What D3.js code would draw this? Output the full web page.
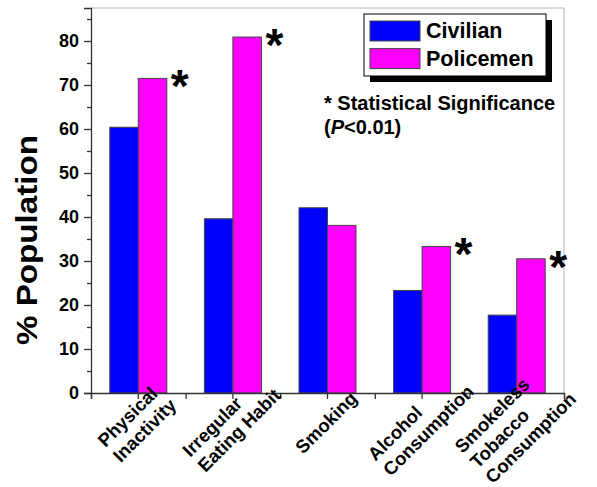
<!DOCTYPE html>
<html>
<head>
<meta charset="utf-8">
<script src="https://cdn.jsdelivr.net/npm/d3@7"></script>
<style>
    body { margin: 0; background: #fff; }
    text { font-family: "Liberation Sans", Arial, sans-serif; font-weight: bold; fill: #000; }
</style>
</head>
<body>
<div id="chart_container"></div>
<script>
var categories = [
    ["Physical", "Inactivity"],
    ["Irregular", "Eating Habit"],
    ["Smoking"],
    ["Alcohol", "Consumption"],
    ["Smokeless", "Tobacco", "Consumption"]
];
var seriesNames = ["Civilian", "Policemen"];
var civilian = [60.4, 39.6, 42.1, 23.3, 17.7];
var policemen = [71.5, 80.9, 38.1, 33.3, 30.5];
var significant = [true, true, false, true, true];
var yTicks = [0, 10, 20, 30, 40, 50, 60, 70, 80];
var yMinorTicks = [5, 15, 25, 35, 45, 55, 65, 75, 85];
var colors = ["#0000ff", "#ff00ff"];

var margin = {top: 8, right: 33, bottom: 94, left: 91},
    width = 597 - margin.left - margin.right,
    height = 487 - margin.top - margin.bottom;

var svg = d3.select("#chart_container").append("svg")
    .attr("width", 597)
    .attr("height", 487);

var g = svg.append("g")
    .attr("transform", "translate(" + margin.left + "," + margin.top + ")");

var keys = categories.map(function (c) { return c.join(" "); });

var x0 = d3.scaleBand()
    .domain(keys)
    .range([0, width]);

var x1 = d3.scaleBand()
    .domain(seriesNames)
    .range([0, x0.bandwidth()])
    .paddingOuter(0.66);

var y = d3.scaleLinear()
    .domain([0, 87.5])
    .range([height, 0]);

var data = keys.map(function (k, i) {
    return {key: k, values: [civilian[i], policemen[i]], sig: significant[i]};
});

// frame (top / right)
g.append("line").attr("x1", 0).attr("x2", width).attr("y1", 0).attr("y2", 0)
    .attr("stroke", "#b5b5b5");
g.append("line").attr("x1", width).attr("x2", width).attr("y1", 0).attr("y2", height)
    .attr("stroke", "#b5b5b5");

// bars
var groups = g.selectAll(".grp")
    .data(data)
    .enter().append("g")
    .attr("class", "grp")
    .attr("transform", function (d) { return "translate(" + x0(d.key) + ",0)"; });

groups.selectAll("rect")
    .data(function (d) {
        return d.values.map(function (v, j) { return {name: seriesNames[j], value: v, j: j}; });
    })
    .enter().append("rect")
    .attr("x", function (d) { return x1(d.name); })
    .attr("width", x1.bandwidth())
    .attr("y", function (d) { return y(d.value); })
    .attr("height", function (d) { return height - y(d.value); })
    .attr("fill", function (d) { return colors[d.j]; })
    .attr("stroke", "#444")
    .attr("stroke-width", 1);

// significance asterisks
groups.filter(function (d) { return d.sig; })
    .append("text")
    .attr("x", x1("Policemen") + x1.bandwidth() + 4)
    .attr("y", function (d) { return y(d.values[1]) + 24; })
    .style("font-size", "46px")
    .text("*");

// y axis
var yAxis = g.append("g")
    .call(d3.axisLeft(y).tickValues(yTicks).tickSize(7).tickPadding(5));
g.append("g")
    .call(d3.axisLeft(y).tickValues(yMinorTicks).tickSize(4).tickFormat(""))
    .select(".domain").remove();
yAxis.selectAll("text").style("font-size", "18px");

// x axis
var xAxis = g.append("g")
    .attr("transform", "translate(0," + height + ")")
    .call(d3.axisBottom(x0).tickSize(6).tickFormat(""));
var xb = d3.scaleLinear().domain([0, keys.length]).range([0, width]);
g.append("g")
    .attr("transform", "translate(0," + height + ")")
    .call(d3.axisBottom(xb).ticks(keys.length).tickSize(6).tickFormat(""))
    .select(".domain").remove();

g.selectAll(".domain, .tick line").attr("stroke", "#333").attr("stroke-width", 1.3);

// rotated x labels, left aligned, block centred under the tick
var lineH = 21.5;
data.forEach(function (d, i) {
    var lines = categories[i];
    var lg = g.append("g")
        .attr("transform", "translate(" + (x0(d.key) + x0.bandwidth() / 2) + "," + (height + 31) + ") rotate(-45)");
    var t = lg.append("text").style("font-size", "18.5px");
    lines.forEach(function (s, k) {
        t.append("tspan").attr("x", 0).attr("y", k * lineH).text(s);
    });
    var w = d3.max(t.selectAll("tspan").nodes(), function (n) { return n.getComputedTextLength(); });
    var yc = ((lines.length - 1) * lineH - 9) / 2;
    t.attr("transform", "translate(" + (-w / 2) + "," + (-yc) + ")");
});

// y title
svg.append("text")
    .attr("transform", "translate(37,240) rotate(-90)")
    .attr("text-anchor", "middle")
    .attr("textLength", 210)
    .attr("lengthAdjust", "spacingAndGlyphs")
    .style("font-size", "29px")
    .text("% Population");

// legend
var legend = svg.append("g").attr("transform", "translate(364,14)");
legend.append("rect").attr("x", 6).attr("y", 6).attr("width", 182).attr("height", 62).attr("fill", "#000");
legend.append("rect").attr("x", 0).attr("y", 0).attr("width", 182).attr("height", 62)
    .attr("fill", "#fff").attr("stroke", "#000").attr("stroke-width", 1);
seriesNames.forEach(function (s, j) {
    legend.append("rect")
        .attr("x", 6).attr("y", 7 + j * 27.6)
        .attr("width", 50).attr("height", 20)
        .attr("fill", colors[j]).attr("stroke", "#444");
    legend.append("text")
        .attr("x", 62).attr("y", 24 + j * 27.6)
        .style("font-size", "21.5px")
        .text(s);
});

// significance note
svg.append("text")
    .attr("x", 324).attr("y", 110)
    .style("font-size", "20px")
    .text("* Statistical Significance");
var note = svg.append("text")
    .attr("x", 324).attr("y", 134)
    .style("font-size", "20px");
note.append("tspan").text("(");
note.append("tspan").style("font-style", "italic").text("P");
note.append("tspan").text("<0.01)");
</script>
</body>
</html>
